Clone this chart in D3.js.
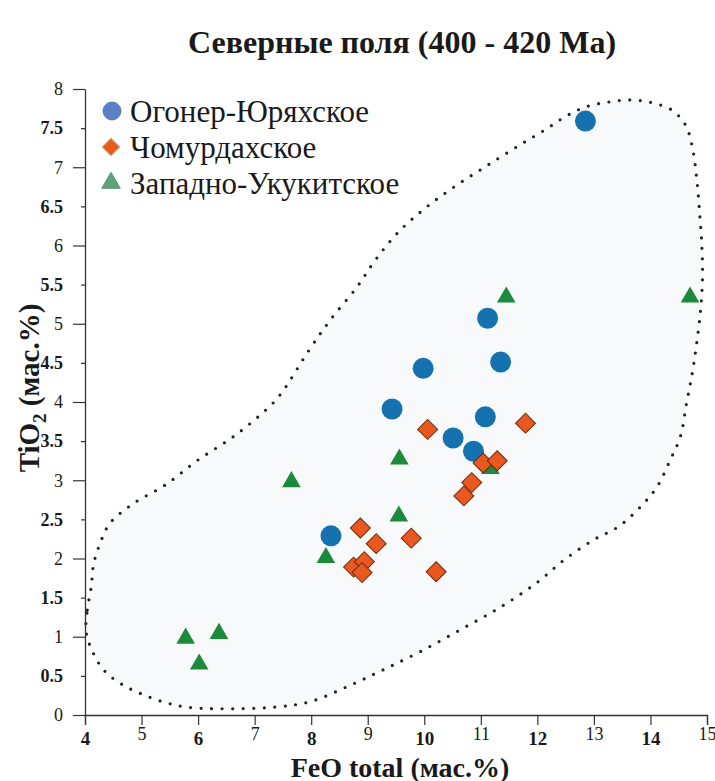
<!DOCTYPE html>
<html>
<head>
<meta charset="utf-8">
<script src="https://cdn.jsdelivr.net/npm/d3@7"></script>
</head>
<body style="margin:0;background:#fff">
<svg id="plot" width="715" height="781" style="display:block"></svg>
<script>
// Axis ticks
const xTicks = [4, 5, 6, 7, 8, 9, 10, 11, 12, 13, 14, 15];
const yTicks = [0, 0.5, 1, 1.5, 2, 2.5, 3, 3.5, 4, 4.5, 5, 5.5, 6, 6.5, 7, 7.5, 8];

// Deposits (legend order)
const seriesNames = ["Огонер-Юряхское", "Чомурдахское", "Западно-Укукитское"];

// [FeO total, TiO2] in wt.%
const ogonerPts = [
  [12.85, 7.59], [11.12, 5.07], [11.35, 4.51], [9.98, 4.43], [9.43, 3.91],
  [11.08, 3.81], [10.51, 3.54], [10.87, 3.37], [8.35, 2.29]
];
const chomurPts = [
  [10.06, 3.65], [11.79, 3.73], [11.04, 3.22], [11.29, 3.25], [10.84, 2.97],
  [10.70, 2.80], [8.87, 2.39], [9.15, 2.19], [9.77, 2.26], [8.75, 1.89],
  [8.94, 1.96], [8.90, 1.82], [10.21, 1.83]
];
const zapadPts = [
  [11.45, 5.34], [14.70, 5.34], [9.56, 3.27], [7.65, 2.98], [9.55, 2.54],
  [8.26, 2.01], [11.17, 3.15], [5.78, 0.98], [6.37, 1.04], [6.02, 0.65]
];

// Outline of the compositional field
const envelopePts = [
  [4.02, 1.06], [4.04, 1.34], [4.11, 1.64], [4.15, 1.92], [4.27, 2.20], [4.44, 2.45],
  [4.85, 2.70], [5.42, 2.94], [6.00, 3.26], [6.63, 3.56], [7.20, 3.90], [7.45, 4.09],
  [7.96, 4.66], [8.34, 5.05], [8.81, 5.47], [9.13, 5.81], [9.54, 6.17], [10.02, 6.48],
  [10.55, 6.76], [11.13, 7.03], [11.70, 7.29], [12.14, 7.48], [12.50, 7.65], [12.85, 7.77],
  [13.23, 7.83], [13.62, 7.86], [14.00, 7.83], [14.38, 7.73], [14.62, 7.54], [14.74, 7.26],
  [14.82, 6.84], [14.87, 6.41], [14.91, 5.98], [14.92, 5.56], [14.88, 5.13], [14.81, 4.71],
  [14.74, 4.37], [14.64, 3.99], [14.53, 3.56], [14.35, 3.26], [14.12, 2.92], [13.85, 2.68],
  [13.44, 2.41], [13.00, 2.24], [12.47, 1.98], [11.99, 1.69], [11.35, 1.38], [10.64, 1.09],
  [9.93, 0.81], [9.28, 0.58], [8.69, 0.38], [7.98, 0.17], [7.33, 0.10], [6.39, 0.08],
  [5.80, 0.10], [5.42, 0.16], [5.03, 0.26], [4.68, 0.38], [4.35, 0.56], [4.14, 0.80]
];

const svg = d3.select("#plot");
const x = d3.scaleLinear().domain([4, 15]).range([85, 707]);
const y = d3.scaleLinear().domain([0, 8]).range([715, 89]);

// Title
svg.append("text").attr("x", 402).attr("y", 53).attr("text-anchor", "middle")
  .attr("font-size", 32).attr("font-weight", "bold")
  .text("Северные поля  (400 - 420 Ma)");

// Field outline
svg.append("path")
  .datum(envelopePts)
  .attr("d", d3.line().x(d => x(d[0])).y(d => y(d[1])).curve(d3.curveCatmullRomClosed))
  .attr("fill", "#f7f9fa")
  .attr("stroke", "#222")
  .attr("stroke-width", 3.2)
  .attr("stroke-linecap", "round")
  .attr("stroke-dasharray", "0 10.5");

// Axes
const yAxis = d3.axisLeft(y).tickValues(yTicks).tickSizeOuter(0).tickPadding(10)
  .tickFormat(d => d3.format("")(d));
const gy = svg.append("g").attr("transform", "translate(85,0)").call(yAxis);
gy.select(".domain").attr("stroke", "#333").attr("stroke-width", 1.3);
gy.selectAll(".tick line")
  .attr("stroke", "#333").attr("stroke-width", 1.2)
  .attr("x2", d => Number.isInteger(d) ? -12 : -4);
gy.selectAll(".tick text")
  .attr("x", -22)
  .attr("font-size", 18)
  .attr("font-weight", d => Number.isInteger(d) ? "normal" : "bold");

const xAxis = d3.axisBottom(x).tickValues(xTicks).tickSizeOuter(0).tickSize(10).tickFormat(d3.format("d"));
const gx = svg.append("g").attr("transform", "translate(0,715)").call(xAxis);
gx.select(".domain").attr("stroke", "#333").attr("stroke-width", 1.3);
gx.selectAll(".tick line").attr("stroke", "#333").attr("stroke-width", 1.2);
gx.selectAll(".tick text")
  .attr("y", d => d % 2 === 0 ? 17 : 12)
  .attr("font-size", d => d % 2 === 0 ? 19 : 18)
  .attr("font-weight", d => d % 2 === 0 ? "bold" : "normal");

// Axis titles
svg.append("text").attr("x", 400).attr("y", 777).attr("text-anchor", "middle")
  .attr("font-size", 28).attr("font-weight", "bold")
  .text("FeO total (мас.%)");

const yl = svg.append("text")
  .attr("transform", "translate(39,388) rotate(-90)")
  .attr("text-anchor", "middle")
  .attr("font-size", 29).attr("font-weight", "bold");
yl.append("tspan").text("TiO");
yl.append("tspan").attr("dy", 7).attr("font-size", 19).text("2");
yl.append("tspan").attr("dy", -7).text(" (мас.%)");

// Markers
const tri = d3.symbol().type(d3.symbolTriangle).size(150);
const dia = d3.symbol().type(d3.symbolSquare).size(200);

svg.append("g").selectAll("circle").data(ogonerPts).join("circle")
  .attr("cx", d => x(d[0])).attr("cy", d => y(d[1])).attr("r", 10.5)
  .attr("fill", "#1672ae");

svg.append("g").selectAll("path").data(zapadPts).join("path")
  .attr("d", tri)
  .attr("transform", d => `translate(${x(d[0])},${y(d[1])})`)
  .attr("fill", "#1c8a3b");

svg.append("g").selectAll("path").data(chomurPts).join("path")
  .attr("d", dia)
  .attr("transform", d => `translate(${x(d[0])},${y(d[1])}) rotate(45)`)
  .attr("fill", "#e9581f").attr("stroke", "#6a2a12").attr("stroke-width", 1);

// Legend
const lg = svg.append("g");
const rows = [111, 147, 183];
lg.append("circle").attr("cx", 112).attr("cy", rows[0]).attr("r", 9)
  .attr("fill", "#5a80c6").attr("stroke", "#4a6fb0").attr("stroke-width", 0.8);
lg.append("path").attr("d", d3.symbol().type(d3.symbolSquare).size(150)())
  .attr("transform", `translate(111,${rows[1]}) rotate(45)`)
  .attr("fill", "#ea5a1c").attr("stroke", "#c2a080").attr("stroke-width", 1);
lg.append("path").attr("d", d3.symbol().type(d3.symbolTriangle).size(150)())
  .attr("transform", `translate(111,${rows[2]})`)
  .attr("fill", "#5fa27a").attr("stroke", "#4a8a62").attr("stroke-width", 0.8);
lg.selectAll("text").data(seriesNames).join("text")
  .attr("x", 130).attr("y", (d, i) => rows[i] + 11)
  .attr("font-size", 31)
  .text(d => d);

// Serif face and ink colour for every label
svg.selectAll("text").each(function () {
  this.setAttribute("font-family", "Liberation Serif");
  this.style.fontFamily = '"Liberation Serif"';
  this.style.fill = "#1a1a1a";
});
</script>
</body>
</html>
